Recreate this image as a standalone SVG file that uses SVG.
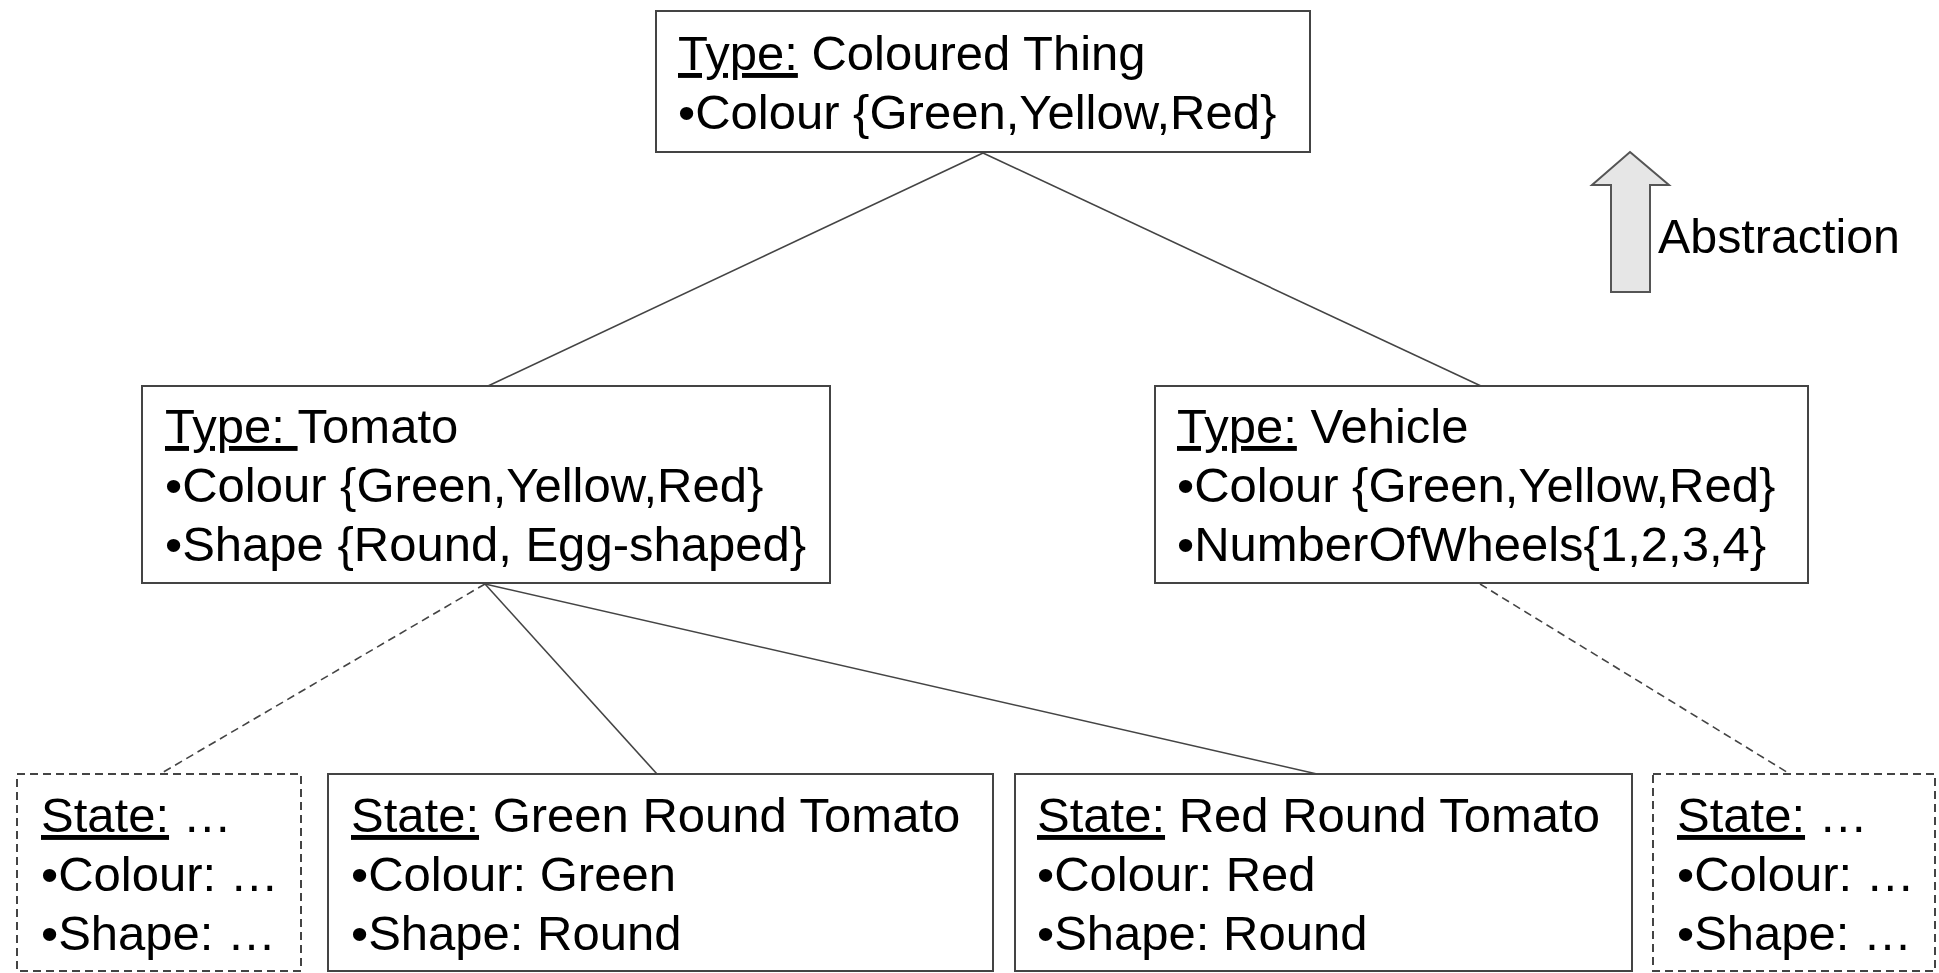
<svg xmlns="http://www.w3.org/2000/svg" width="1939" height="973" viewBox="0 0 1939 973">
  <style>
    .box { fill: #ffffff; stroke: #444444; stroke-width: 2; }
    .dbox { fill: #ffffff; stroke: #444444; stroke-width: 2; stroke-dasharray: 8 5; }
    .lbl { font-family: "Liberation Sans", Arial, sans-serif; font-size: 49px; fill: #000000; }
    .u { text-decoration: underline; }
    .edge { stroke: #444444; stroke-width: 1.6; fill: none; }
    .dash { stroke-dasharray: 8 5; }
  </style>
  <rect x="0" y="0" width="1939" height="973" fill="#ffffff"/>

  <!-- tree edges -->
  <g id="connectors">
    <line class="edge" x1="983" y1="153" x2="488" y2="386"/>
    <line class="edge" x1="983" y1="153" x2="1481" y2="386"/>
    <line class="edge dash" x1="485" y1="584" x2="160" y2="774"/>
    <line class="edge" x1="485" y1="584" x2="657" y2="774"/>
    <line class="edge" x1="485" y1="584" x2="1317" y2="774" stroke-width="2"/>
    <line class="edge dash" x1="1480" y1="584" x2="1790" y2="774"/>
  </g>

  <g id="coloured-thing">
    <rect class="box" x="656" y="11" width="654" height="141"/>
    <text class="lbl" x="678" y="70"><tspan class="u">Type:</tspan> Coloured Thing</text>
    <text class="lbl" x="678" y="129">•Colour {Green,Yellow,Red}</text>
  </g>

  <g id="tomato">
    <rect class="box" x="142" y="386" width="688" height="197"/>
    <text class="lbl" x="165" y="443"><tspan class="u">Type: </tspan>Tomato</text>
    <text class="lbl" x="165" y="502">•Colour {Green,Yellow,Red}</text>
    <text class="lbl" x="165" y="561">•Shape {Round, Egg-shaped}</text>
  </g>

  <g id="vehicle">
    <rect class="box" x="1155" y="386" width="653" height="197"/>
    <text class="lbl" x="1177" y="443"><tspan class="u">Type:</tspan> Vehicle</text>
    <text class="lbl" x="1177" y="502">•Colour {Green,Yellow,Red}</text>
    <text class="lbl" x="1177" y="561">•NumberOfWheels{1,2,3,4}</text>
  </g>

  <g id="state-other-tomato">
    <rect class="dbox" x="17" y="774" width="284" height="197"/>
    <text class="lbl" x="41" y="832"><tspan class="u">State:</tspan> …</text>
    <text class="lbl" x="41" y="891">•Colour: …</text>
    <text class="lbl" x="41" y="950">•Shape: …</text>
  </g>

  <g id="state-green-round">
    <rect class="box" x="328" y="774" width="665" height="197"/>
    <text class="lbl" x="351" y="832"><tspan class="u">State:</tspan> Green Round Tomato</text>
    <text class="lbl" x="351" y="891">•Colour: Green</text>
    <text class="lbl" x="351" y="950">•Shape: Round</text>
  </g>

  <g id="state-red-round">
    <rect class="box" x="1015" y="774" width="617" height="197"/>
    <text class="lbl" x="1037" y="832"><tspan class="u">State:</tspan> Red Round Tomato</text>
    <text class="lbl" x="1037" y="891">•Colour: Red</text>
    <text class="lbl" x="1037" y="950">•Shape: Round</text>
  </g>

  <g id="state-other-vehicle">
    <rect class="dbox" x="1653" y="774" width="282" height="197"/>
    <text class="lbl" x="1677" y="832"><tspan class="u">State:</tspan> …</text>
    <text class="lbl" x="1677" y="891">•Colour: …</text>
    <text class="lbl" x="1677" y="950">•Shape: …</text>
  </g>

  <g id="abstraction">
    <polygon points="1630,152 1669,185 1650,185 1650,292 1611,292 1611,185 1592,185" fill="#e6e6e6" stroke="#555555" stroke-width="2" stroke-linejoin="miter"/>
    <text class="lbl" x="1658" y="253" font-size="46" textLength="242" lengthAdjust="spacingAndGlyphs">Abstraction</text>
  </g>
</svg>
